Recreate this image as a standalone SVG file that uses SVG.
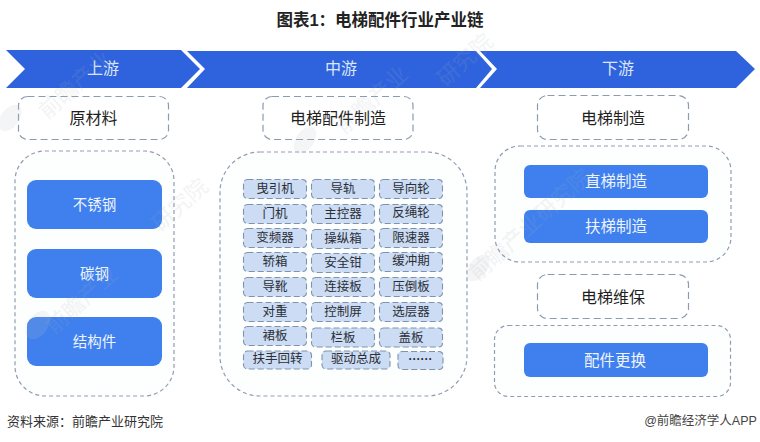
<svg xmlns="http://www.w3.org/2000/svg" width="760" height="442" viewBox="0 0 760 442">
<style>
text{font-family:"Liberation Sans","Noto Sans CJK SC",sans-serif;text-anchor:middle;dominant-baseline:central}
.chev{fill:#2f63dd}
.chevt{fill:#dbe6fa;font-size:16px}
.box{fill:#fff;stroke:#8b9bb0;stroke-width:1.2;stroke-dasharray:7 4}
.head{fill:#1f1f1f;font-size:16px}
.panel{fill:#fdfefe;stroke:#8f9db0;stroke-width:1.2;stroke-dasharray:4 3}
.btn{fill:#3f80ee}
.btnt{fill:#eef4fe;font-size:14.5px}
.btnw{fill:#eef4fe;font-size:15.5px}
.cell{fill:#cbdcf4;stroke:#7f93ad;stroke-width:1.1;stroke-dasharray:6 3}
.cellt{fill:#2b2f36;font-size:12.5px}
.wm{fill:#b9c0c9;opacity:.16}
.wmt{fill:#a9b0ba;opacity:.14;font-size:22px}
</style>
<rect width="760" height="442" fill="#fff"/>
<text x="380" y="20" style="font-size:16.5px;font-weight:700;fill:#222">图表1：电梯配件行业产业链</text>
<g id="stage-upstream"><polygon class="chev" points="6,50 181,50 200,69 181,88 6,88 25,69"/><text class="chevt" x="103" y="68">上游</text></g>
<g id="stage-midstream"><polygon class="chev" points="187,51 476,51 492,69 476,88 187,88 205,69"/><text class="chevt" x="341" y="68">中游</text></g>
<g id="stage-downstream"><polygon class="chev" points="480,51 736,51 755,69 736,88 480,88 497,69"/><text class="chevt" x="618" y="68">下游</text></g>
<g id="raw-material"><rect class="box" x="18.500" y="96.500" width="150" height="43" rx="9"/><text class="head" x="93.500" y="118">原材料</text></g>
<g id="parts-mfg"><rect class="box" x="263" y="96.500" width="150" height="43" rx="9"/><text class="head" x="338" y="118">电梯配件制造</text></g>
<g id="elevator-mfg"><rect class="box" x="537.500" y="95.500" width="151" height="44" rx="10"/><text class="head" x="613" y="118">电梯制造</text></g>
<g id="upstream-panel"><rect class="panel" x="15" y="151" width="159" height="245" rx="30"/>
<g id="stainless"><rect class="btn" x="27" y="180" width="135" height="49" rx="9"/><text class="btnt" x="94.500" y="204.500">不锈钢</text></g>
<g id="carbon"><rect class="btn" x="27" y="249" width="135" height="49" rx="9"/><text class="btnt" x="94.500" y="273.500">碳钢</text></g>
<g id="structural"><rect class="btn" x="27" y="317" width="135" height="49" rx="9"/><text class="btnt" x="94.500" y="342">结构件</text></g></g>
<g id="midstream-panel"><rect class="panel" x="220" y="152" width="247" height="244" rx="40"/></g>
<g id="c1"><rect class="cell" x="243.500" y="179.500" width="63" height="19" rx="4"/><text class="cellt" x="275" y="189">曳引机</text></g>
<g id="c2"><rect class="cell" x="311.500" y="179.500" width="63" height="19" rx="4"/><text class="cellt" x="343" y="189">导轨</text></g>
<g id="c3"><rect class="cell" x="379.500" y="179.500" width="63" height="19" rx="4"/><text class="cellt" x="411" y="189">导向轮</text></g>
<g id="c4"><rect class="cell" x="243.500" y="204.500" width="63" height="19" rx="4"/><text class="cellt" x="275" y="214">门机</text></g>
<g id="c5"><rect class="cell" x="311.500" y="204.500" width="63" height="19" rx="4"/><text class="cellt" x="343" y="214">主控器</text></g>
<g id="c6"><rect class="cell" x="379.500" y="204.500" width="63" height="19" rx="4"/><text class="cellt" x="411" y="213">反绳轮</text></g>
<g id="c7"><rect class="cell" x="243.500" y="228.500" width="63" height="19" rx="4"/><text class="cellt" x="275" y="238">变频器</text></g>
<g id="c8"><rect class="cell" x="311.500" y="229.500" width="63" height="19" rx="4"/><text class="cellt" x="343" y="239">操纵箱</text></g>
<g id="c9"><rect class="cell" x="379.500" y="228.500" width="63" height="19" rx="4"/><text class="cellt" x="411" y="238">限速器</text></g>
<g id="c10"><rect class="cell" x="243.500" y="252.500" width="63" height="19" rx="4"/><text class="cellt" x="275" y="262">轿箱</text></g>
<g id="c11"><rect class="cell" x="311.500" y="253.500" width="63" height="19" rx="4"/><text class="cellt" x="343" y="263">安全钳</text></g>
<g id="c12"><rect class="cell" x="379.500" y="252.500" width="63" height="19" rx="4"/><text class="cellt" x="411" y="261">缓冲期</text></g>
<g id="c13"><rect class="cell" x="243.500" y="277.500" width="63" height="19" rx="4"/><text class="cellt" x="275" y="287">导靴</text></g>
<g id="c14"><rect class="cell" x="311.500" y="277.500" width="63" height="19" rx="4"/><text class="cellt" x="343" y="287">连接板</text></g>
<g id="c15"><rect class="cell" x="379.500" y="277.500" width="63" height="19" rx="4"/><text class="cellt" x="411" y="287">压倒板</text></g>
<g id="c16"><rect class="cell" x="243.500" y="302.500" width="63" height="19" rx="4"/><text class="cellt" x="275" y="312">对重</text></g>
<g id="c17"><rect class="cell" x="311.500" y="302.500" width="63" height="19" rx="4"/><text class="cellt" x="343" y="312">控制屏</text></g>
<g id="c18"><rect class="cell" x="379.500" y="302.500" width="63" height="19" rx="4"/><text class="cellt" x="411" y="312">选层器</text></g>
<g id="c19"><rect class="cell" x="243.500" y="326.500" width="63" height="19" rx="4"/><text class="cellt" x="275" y="336">裙板</text></g>
<g id="c20"><rect class="cell" x="311.500" y="328" width="63" height="19" rx="4"/><text class="cellt" x="343" y="338">栏板</text></g>
<g id="c21"><rect class="cell" x="379.500" y="328" width="63" height="19" rx="4"/><text class="cellt" x="411" y="338">盖板</text></g>
<g id="c22"><rect class="cell" x="243.500" y="351" width="68" height="18" rx="4"/><text class="cellt" x="277.500" y="359">扶手回转</text></g>
<g id="c23"><rect class="cell" x="322" y="351" width="68" height="18" rx="4"/><text class="cellt" x="356" y="359">驱动总成</text></g>
<g id="c24"><rect class="cell" x="398" y="351.500" width="45" height="18" rx="4"/><text class="cellt" x="420.500" y="359" style="font-size:12px;font-weight:700">······</text></g>
<g id="mfg-panel"><rect class="panel" x="495" y="146" width="236" height="116" rx="25"/>
<g id="straight"><rect class="btn" x="524" y="165" width="184" height="33" rx="6"/><text class="btnw" x="616" y="181.500">直梯制造</text></g>
<g id="escalator"><rect class="btn" x="524" y="210" width="184" height="33" rx="6"/><text class="btnw" x="616" y="226.500">扶梯制造</text></g></g>
<g id="maintenance"><rect class="box" x="537.500" y="274.500" width="151" height="44" rx="10"/><text class="head" x="613" y="297">电梯维保</text></g>
<g id="parts-panel"><rect class="panel" x="494.500" y="325.500" width="236" height="71" rx="14"/>
<g id="replace"><rect class="btn" x="524" y="343" width="184" height="34" rx="6"/><text class="btnw" x="615" y="360">配件更换</text></g></g>
<text x="85" y="421" style="font-size:13px;fill:#333">资料来源：前瞻产业研究院</text>
<text x="700.500" y="421" style="font-size:12.500px;fill:#444">@前瞻经济学人APP</text>
<g id="watermarks">
<ellipse class="wm" cx="10" cy="118" rx="9" ry="15" transform="rotate(35 10 118)"/>
<text class="wmt" transform="translate(75,85) rotate(-42)">前瞻产业</text>
<ellipse class="wm" cx="305" cy="140" rx="9" ry="15" transform="rotate(35 305 140)"/>
<text class="wmt" transform="translate(372,100) rotate(-42)">前瞻产业</text>
<text class="wmt" transform="translate(180,205) rotate(-42)">研究院</text>
<ellipse class="wm" cx="478" cy="268" rx="9" ry="15" transform="rotate(35 478 268)"/>
<text class="wmt" transform="translate(530,225) rotate(-42)">前瞻产业研究院</text>
<ellipse class="wm" cx="38" cy="325" rx="10" ry="16" transform="rotate(35 38 325)"/>
<text class="wmt" transform="translate(82,300) rotate(-42)">前瞻产业</text>
<text class="wmt" transform="translate(465,60) rotate(-42)">研究院</text>
</g>
<g id="connectors"></g>
</svg>
